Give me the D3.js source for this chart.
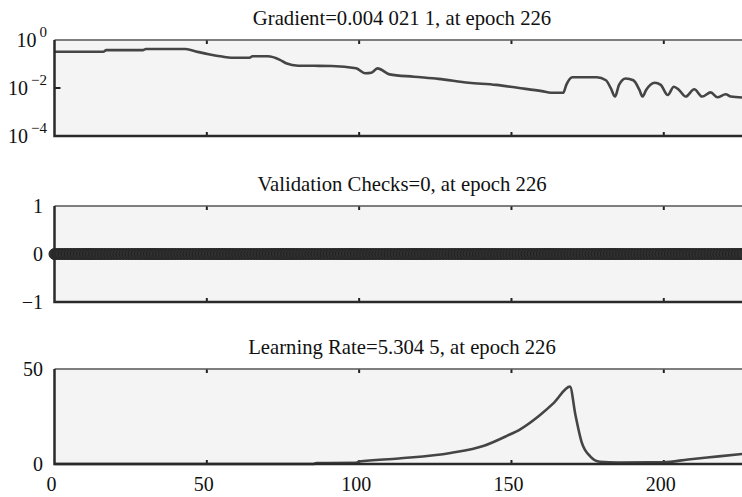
<!DOCTYPE html>
<html>
<head>
<meta charset="utf-8">
<script src="https://cdn.jsdelivr.net/npm/d3@7"></script>
<style>
  body { margin: 0; background: #fff; }
</style>
</head>
<body>
<svg id="chart" width="742" height="497"></svg>
<script>
// epochs run 0..226
let lastEpoch = 226
let xTicks = [0, 50, 100, 150, 200]

// gradient (log scale)
let gradEpoch = [0, 16, 17, 29, 30, 43, 47, 51, 55, 58, 64, 65, 70, 74, 76, 80, 91, 99, 102, 104, 106, 110, 118, 126, 136, 145, 152, 160, 163, 167, 168, 170, 178, 181, 182.6, 184, 185.3, 187.5, 190, 192, 193, 194.2, 197, 199, 201.3, 203.3, 205, 207.2, 210, 212.6, 215.4, 217.6, 220.3, 222, 226]
let gradValue = [0.324, 0.324, 0.38, 0.38, 0.42, 0.42, 0.32, 0.25, 0.204, 0.182, 0.182, 0.209, 0.209, 0.148, 0.107, 0.085, 0.083, 0.066, 0.041, 0.043, 0.066, 0.037, 0.0295, 0.024, 0.0166, 0.0135, 0.0102, 0.0074, 0.0063, 0.0063, 0.0135, 0.028, 0.028, 0.021, 0.0098, 0.0044, 0.0135, 0.025, 0.021, 0.0083, 0.0044, 0.0083, 0.0166, 0.0135, 0.0051, 0.0112, 0.0083, 0.0044, 0.0089, 0.0044, 0.0066, 0.0041, 0.0055, 0.0044, 0.0040211]
let gradTicks = [0, -2, -4] // powers of ten

// validation checks: zero at every epoch
let valChecks = d3.range(0, lastEpoch + 1).map(e => ({epoch: e, value: 0}))
let valTicks = [1, 0, -1]

// learning rate
let lrEpoch = [0, 85, 86, 99, 100, 113, 130, 141, 148.5, 153, 159.4, 164, 169.2, 171, 173, 176, 179, 185, 200, 208, 218, 226]
let lrValue = [0, 0, 0.5, 0.6, 1.3, 2.9, 5.8, 9.6, 14.8, 18.4, 25.8, 32.3, 40.7, 25.8, 11.7, 3.8, 1.2, 0.8, 0.9, 2.4, 4.0, 5.3045]
let lrTicks = [0, 50]

let titles = ['Gradient=0.004 021 1, at epoch 226', 'Validation Checks=0, at epoch 226', 'Learning Rate=5.304 5, at epoch 226']

let serif = '"Liberation Serif", "Times New Roman", Tinos, "DejaVu Serif", serif'
let svg = d3.select('#chart').attr('font-family', serif)
let left = 54.5, right = 743
let panels = [{top: 40, bottom: 136}, {top: 206, bottom: 302}, {top: 369, bottom: 464}]
let lineColor = '#454545'

let x = d3.scaleLinear().domain([0, lastEpoch]).range([left, right])

function drawFrame(p, yTickPos, i) {
    svg.append('rect')
        .attr('x', left).attr('y', p.top)
        .attr('width', right - left).attr('height', p.bottom - p.top)
        .attr('fill', '#f4f4f4')
    // x ticks inward, top and bottom
    let g = svg.append('g')
    xTicks.forEach(t => {
        if (t == 0) return
        g.append('line').attr('x1', x(t)).attr('x2', x(t))
            .attr('y1', p.top).attr('y2', p.top + 4)
            .attr('stroke', '#222').attr('stroke-width', 2)
        g.append('line').attr('x1', x(t)).attr('x2', x(t))
            .attr('y1', p.bottom).attr('y2', p.bottom - 4)
            .attr('stroke', '#222').attr('stroke-width', 2)
    })
    yTickPos.forEach(y => {
        g.append('line').attr('x1', left).attr('x2', left + 6)
            .attr('y1', y).attr('y2', y)
            .attr('stroke', '#222').attr('stroke-width', 2)
    })
    svg.append('text')
        .attr('x', 402).attr('y', p.top - 15)
        .attr('text-anchor', 'middle')
        .attr('font-family', serif)
        .attr('fill', '#111')
        .style('font-size', '20.7px')
        .text(titles[i])
}

function drawBorder(p) {
    svg.append('path')
        .attr('d', `M${left},${p.top}H${right}V${p.bottom}`)
        .attr('fill', 'none').attr('stroke', '#555').attr('stroke-width', 1.5)
    svg.append('path')
        .attr('d', `M${left},${p.top}V${p.bottom}H${right}`)
        .attr('fill', 'none').attr('stroke', '#2a2a2a').attr('stroke-width', 2.5)
}

function label(xp, yp, txt) {
    return svg.append('text')
        .attr('x', xp).attr('y', yp)
        .attr('text-anchor', 'end')
        .attr('font-family', serif)
        .attr('fill', '#111')
        .style('font-size', '20px')
        .text(txt)
}

// ---- panel 1: gradient
let p1 = panels[0]
let yGrad = d3.scaleLog().domain([1e-4, 1]).range([p1.bottom, p1.top])
drawFrame(p1, [yGrad(1e-2)], 0)
svg.append('path')
    .datum(d3.zip(gradEpoch, gradValue))
    .attr('d', d3.line().x(d => x(d[0])).y(d => yGrad(d[1])).curve(d3.curveMonotoneX))
    .attr('fill', 'none').attr('stroke', lineColor).attr('stroke-width', 2.6)
drawBorder(p1)
gradTicks.forEach(pw => {
    let t = label(47, yGrad(Math.pow(10, pw)) + 7, null)
    t.append('tspan').text('10')
    t.append('tspan').attr('dy', -10).attr('dx', 3).style('font-size', '15px')
        .text(pw == 0 ? '0' : '\u2212' + Math.abs(pw))
})

// ---- panel 2: validation checks
let p2 = panels[1]
let yVal = d3.scaleLinear().domain([-1, 1]).range([p2.bottom, p2.top])
drawFrame(p2, [], 1)
svg.append('g').selectAll('circle')
    .data(valChecks)
    .join('circle')
    .attr('cx', d => x(d.epoch)).attr('cy', d => yVal(d.value))
    .attr('r', 5.5)
    .attr('fill', '#303030').attr('stroke', '#222').attr('stroke-width', 1)
drawBorder(p2)
valTicks.forEach(v => {
    label(43, yVal(v) + 7, v < 0 ? '\u2212' + Math.abs(v) : v)
})

// ---- panel 3: learning rate
let p3 = panels[2]
let yLr = d3.scaleLinear().domain([0, 50]).range([p3.bottom, p3.top])
drawFrame(p3, [], 2)
svg.append('path')
    .datum(d3.zip(lrEpoch, lrValue))
    .attr('d', d3.line().x(d => x(d[0])).y(d => yLr(d[1])).curve(d3.curveMonotoneX))
    .attr('fill', 'none').attr('stroke', lineColor).attr('stroke-width', 2.6)
drawBorder(p3)
lrTicks.forEach(v => {
    label(43, yLr(v) + 7, v)
})

// x tick labels under bottom panel
xTicks.forEach(t => {
    label(x(t) - 3, 491, t).attr('text-anchor', 'middle')
})
</script>
</body>
</html>
